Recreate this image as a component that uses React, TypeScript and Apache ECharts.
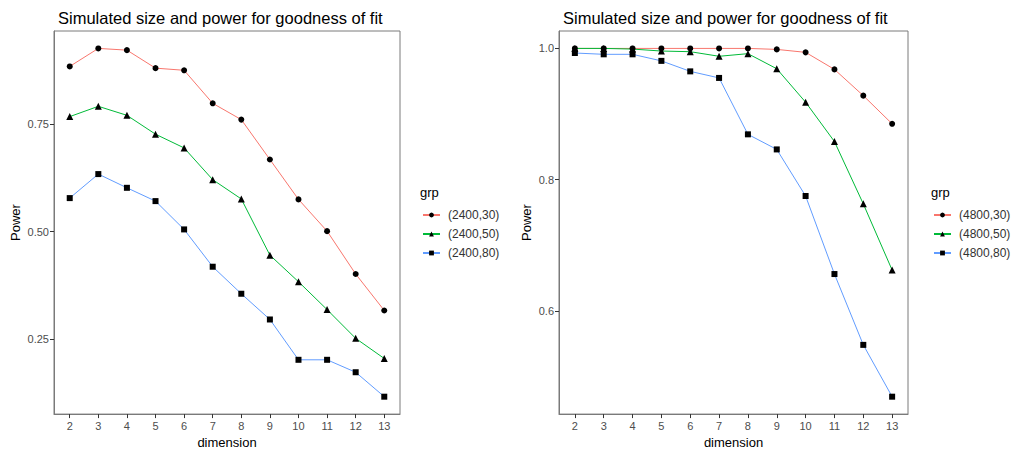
import React, { useEffect, useRef } from "react";
import * as echarts from "echarts";

// Dimensions on the x axis
const dimensions = [2, 3, 4, 5, 6, 7, 8, 9, 10, 11, 12, 13];

// Left panel: sample size 2400
const groupsLeft = ["(2400,30)", "(2400,50)", "(2400,80)"];
const power2400_30 = [0.885, 0.927, 0.923, 0.881, 0.876, 0.799, 0.761, 0.668, 0.575, 0.501, 0.401, 0.316];
const power2400_50 = [0.768, 0.792, 0.771, 0.727, 0.695, 0.621, 0.576, 0.445, 0.383, 0.318, 0.251, 0.204];
const power2400_80 = [0.578, 0.634, 0.602, 0.571, 0.505, 0.418, 0.355, 0.295, 0.201, 0.201, 0.172, 0.115];

// Right panel: sample size 4800
const groupsRight = ["(4800,30)", "(4800,50)", "(4800,80)"];
const power4800_30 = [1.0, 1.0, 1.0, 1.0, 1.0, 1.0, 1.0, 0.9985, 0.994, 0.968, 0.928, 0.885];
const power4800_50 = [1.0, 1.0, 0.999, 0.996, 0.995, 0.988, 0.992, 0.969, 0.918, 0.858, 0.763, 0.662];
const power4800_80 = [0.993, 0.991, 0.991, 0.981, 0.965, 0.955, 0.869, 0.846, 0.775, 0.656, 0.548, 0.469];

const yTicksLeft = [0.25, 0.5, 0.75];
const yTicksRight = [0.6, 0.8, 1.0];

const hueColors = ["#F8766D", "#00BA38", "#619CFF"];
const shapes = ["circle", "triangle", "rect"];
const shapeSizes = [6, 7, 6];

const TITLE = "Simulated size and power for goodness of fit";
const FONT = "Liberation Sans, Arial, sans-serif";

// ggplot-style 5% expansion of a data range
function expand(values: number[], mult = 0.05): [number, number] {
  const lo = Math.min(...values);
  const hi = Math.max(...values);
  const pad = (hi - lo) * mult;
  return [lo - pad, hi + pad];
}

export default function App() {
  const ref = useRef<HTMLDivElement>(null);

  useEffect(() => {
    if (!ref.current) return;
    const chart = echarts.init(ref.current, undefined, { renderer: "svg" });

    const leftSeries = [power2400_30, power2400_50, power2400_80];
    const rightSeries = [power4800_30, power4800_50, power4800_80];
    const [xMin, xMax] = expand(dimensions);
    const [yMinL, yMaxL] = expand(leftSeries.flat());
    const [yMinR, yMaxR] = expand(rightSeries.flat());

    const axisColor = "#7a7a7a";
    const tickLabel = { color: "#4D4D4D", fontSize: 11, fontFamily: FONT };

    const xAxisFor = (gridIndex: number) => ({
      type: "value",
      gridIndex,
      min: xMin,
      max: xMax,
      name: "dimension",
      nameLocation: "middle",
      nameGap: 19,
      nameTextStyle: { color: "#000", fontSize: 13, fontFamily: FONT },
      axisLine: { show: true, lineStyle: { color: axisColor, width: 1 } },
      axisTick: { show: true, length: 4, lineStyle: { color: "#333" }, customValues: dimensions },
      axisLabel: { ...tickLabel, margin: 6, customValues: dimensions },
      splitLine: { show: false },
    });

    const yAxisFor = (gridIndex: number, min: number, max: number, ticks: number[], digits: number, gap: number) => ({
      type: "value",
      gridIndex,
      min,
      max,
      name: "Power",
      nameLocation: "middle",
      nameGap: gap,
      nameTextStyle: { color: "#000", fontSize: 13, fontFamily: FONT },
      axisLine: { show: true, lineStyle: { color: axisColor, width: 1 } },
      axisTick: { show: true, length: 4, lineStyle: { color: "#333" }, customValues: ticks },
      axisLabel: {
        ...tickLabel,
        margin: 5,
        customValues: ticks,
        formatter: (v: number) => v.toFixed(digits),
      },
      splitLine: { show: false },
    });

    const makeSeries = (names: string[], data: number[][], idx: number) =>
      names.map((name, i) => ({
        type: "line",
        name,
        xAxisIndex: idx,
        yAxisIndex: idx,
        data: dimensions.map((d, j) => [d, data[i][j]]),
        symbol: shapes[i],
        symbolSize: shapeSizes[i],
        showSymbol: true,
        lineStyle: { color: hueColors[i], width: 1 },
        itemStyle: { color: "#000" },
        color: hueColors[i],
        z: 2,
      }));

    const legendFor = (names: string[], left: number) => ({
      orient: "vertical",
      left,
      top: 204,
      itemWidth: 17,
      itemHeight: 6,
      itemGap: 7,
      data: names,
      textStyle: { color: "#333", fontSize: 12, fontFamily: FONT, padding: [0, 0, 0, 3] },
      selectedMode: false,
    });

    const titleStyle = { fontSize: 16.5, fontWeight: "normal", color: "#000", fontFamily: FONT };

    chart.setOption({
      animation: false,
      backgroundColor: "#fff",
      title: [
        { text: TITLE, left: 53, top: 4, textStyle: titleStyle },
        { text: TITLE, left: 558, top: 4, textStyle: titleStyle },
      ],
      grid: [
        { left: 54, top: 31, width: 346, height: 385, show: true, borderColor: axisColor, borderWidth: 1, backgroundColor: "transparent" },
        { left: 559, top: 31, width: 349, height: 385, show: true, borderColor: axisColor, borderWidth: 1, backgroundColor: "transparent" },
      ],
      xAxis: [xAxisFor(0), xAxisFor(1)],
      yAxis: [
        yAxisFor(0, yMinL, yMaxL, yTicksLeft, 2, 32),
        yAxisFor(1, yMinR, yMaxR, yTicksRight, 1, 26),
      ],
      legend: [legendFor(groupsLeft, 417), legendFor(groupsRight, 928)],
      graphic: [
        { type: "text", left: 420, top: 186, style: { text: "grp", fontSize: 13, fill: "#000", fontFamily: FONT } },
        { type: "text", left: 931, top: 186, style: { text: "grp", fontSize: 13, fill: "#000", fontFamily: FONT } },
      ],
      series: [...makeSeries(groupsLeft, leftSeries, 0), ...makeSeries(groupsRight, rightSeries, 1)],
    });

    return () => chart.dispose();
  }, []);

  return (
    <div
      ref={ref}
      style={{ position: "fixed", left: 0, top: 0, width: 1013, height: 454, background: "#fff" }}
    />
  );
}
